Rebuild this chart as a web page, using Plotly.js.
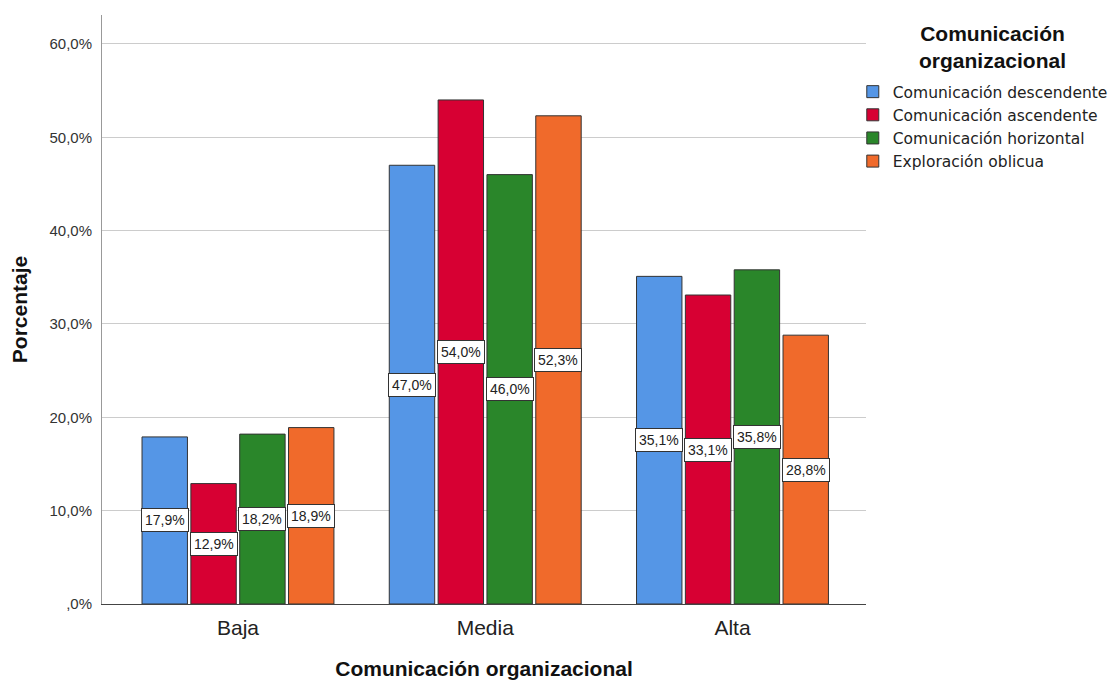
<!DOCTYPE html>
<html><head><meta charset="utf-8">
<script src="https://cdn.plot.ly/plotly-3.0.1.min.js"></script>
<style>html,body{margin:0;padding:0;background:#fff}#c{width:1115px;height:682px}</style>
</head><body><div id="c"></div>
<script>
const categories = ["Baja", "Media", "Alta"];
const seriesNames = ["Comunicación descendente", "Comunicación ascendente", "Comunicación horizontal", "Exploración oblicua"];
const descendente = [17.9, 47.0, 35.1];
const ascendente = [12.9, 54.0, 33.1];
const horizontal = [18.2, 46.0, 35.8];
const oblicua = [18.9, 52.3, 28.8];
const yTickVals = [0, 10, 20, 30, 40, 50, 60];
const yTickText = [",0%", "10,0%", "20,0%", "30,0%", "40,0%", "50,0%", "60,0%"];
const legendTitle = "Comunicación<br>organizacional";

const seriesValues = [descendente, ascendente, horizontal, oblicua];
const colors = ["#5596E6", "#D70033", "#2A862A", "#F06A2B"];
const font = "Arial, 'Liberation Sans', sans-serif";
const bargap = 0.21;
const nS = seriesValues.length;
const slot = (1 - bargap) / nS;

const traces = seriesValues.map((vals, i) => ({
  type: "bar", name: seriesNames[i], x: categories, y: vals,
  marker: {color: colors[i], line: {color: "#333333", width: 1}},
  hoverinfo: "none"
}));

const fmt = v => v.toFixed(1).replace(".", ",") + "%";
const annotations = [];
seriesValues.forEach((vals, i) => {
  vals.forEach((v, j) => {
    annotations.push({
      x: j - (1 - bargap) / 2 + slot * (i + 0.5), y: v / 2, xref: "x", yref: "y",
      text: fmt(v), showarrow: false,
      font: {family: font, size: 14, color: "#222"},
      bgcolor: "#ffffff", bordercolor: "#333333", borderwidth: 1, borderpad: 3
    });
  });
});
annotations.push({
  x: 1.165, y: 0.945, xref: "paper", yref: "paper", xanchor: "center", yanchor: "middle",
  text: "<b>" + legendTitle + "</b>", showarrow: false, align: "center",
  font: {family: font, size: 21, color: "#111"}
});

const layout = {
  width: 1115, height: 682,
  margin: {l: 102, r: 249, t: 15, b: 78, autoexpand: false},
  paper_bgcolor: "#fff", plot_bgcolor: "#fff",
  barmode: "group", bargap: bargap, bargroupgap: 0.07,
  font: {family: font, color: "#222"},
  xaxis: {
    type: "category", range: [-0.55, 2.54],
    showline: true, linecolor: "#444", linewidth: 1,
    ticks: "", tickfont: {size: 21, color: "#222"}, ticklabelstandoff: 5,
    title: {text: "Comunicación organizacional", font: {size: 21, color: "#111", family: font, weight: "bold"}, standoff: 23}
  },
  yaxis: {
    range: [0, 63.1], tickvals: yTickVals, ticktext: yTickText,
    showgrid: true, gridcolor: "#cccccc", gridwidth: 1,
    showline: true, linecolor: "#999", linewidth: 1,
    ticks: "", tickfont: {size: 15, color: "#333"}, ticklabelstandoff: 6, zeroline: false,
    title: {text: "Porcentaje", font: {size: 21, color: "#111", family: font, weight: "bold"}, standoff: 16}
  },
  legend: {
    x: 0.9827, xanchor: "left", y: 0.898, yanchor: "top", bgcolor: "rgba(0,0,0,0)",
    font: {size: 15.5, color: "#222", family: "'DejaVu Sans', sans-serif"}, tracegroupgap: 0, itemwidth: 30
  },
  annotations: annotations,
  showlegend: true
};

Plotly.newPlot("c", traces, layout, {displayModeBar: false, staticPlot: true});
</script></body></html>
